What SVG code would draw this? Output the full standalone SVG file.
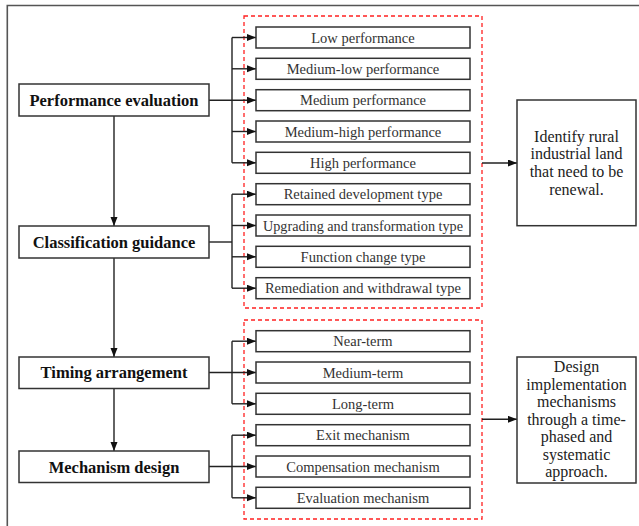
<svg xmlns="http://www.w3.org/2000/svg" width="639" height="526" viewBox="0 0 639 526">
<defs>
<marker id="ah" markerUnits="userSpaceOnUse" markerWidth="10" markerHeight="8" refX="9" refY="3.5" orient="auto">
<path d="M0,0 L9,3.5 L0,7 z" fill="#111"/>
</marker>
<style>
.box{fill:#fff;stroke:#333;stroke-width:1.5}
.main{font-family:"Liberation Serif","Times New Roman",serif;font-weight:bold;font-size:16.5px;fill:#111;text-anchor:middle}
.sub{font-family:"Liberation Serif","Times New Roman",serif;font-size:14.5px;fill:#333;text-anchor:middle}
.res{font-family:"Liberation Serif","Times New Roman",serif;font-size:16px;fill:#222;text-anchor:middle}
.ln{fill:none;stroke:#222;stroke-width:1.4}
.arr{fill:none;stroke:#222;stroke-width:1.4;marker-end:url(#ah)}
.red{fill:none;stroke:#ff2020;stroke-width:1.3;stroke-dasharray:4 3}
</style>
</defs>
<rect width="639" height="526" fill="#fff"/>
<path d="M7.3,526 V5.5 H639" fill="none" stroke="#555" stroke-width="1.6"/>

<g id="groups">
<rect class="red" x="244" y="16" width="238" height="292"/>
<rect class="red" x="244" y="320" width="238" height="199"/>
</g>

<g id="connectors">
<path class="arr" d="M114,116 V226"/>
<path class="arr" d="M114,258 V357"/>
<path class="arr" d="M114,388.5 V451"/>
<path class="arr" d="M209,100.2 H256"/>
<path class="ln" d="M232,37.5 V162.8"/>
<path class="arr" d="M232,37.5 H256"/>
<path class="arr" d="M232,68.8 H256"/>
<path class="arr" d="M232,131.5 H256"/>
<path class="arr" d="M232,162.8 H256"/>
<path class="ln" d="M209,242 H232"/>
<path class="ln" d="M232,194.2 V288.2"/>
<path class="arr" d="M232,194.2 H256"/>
<path class="arr" d="M232,225.5 H256"/>
<path class="arr" d="M232,256.8 H256"/>
<path class="arr" d="M232,288.2 H256"/>
<path class="arr" d="M209,372.5 H256"/>
<path class="ln" d="M232,341.2 V403.8"/>
<path class="arr" d="M232,341.2 H256"/>
<path class="arr" d="M232,403.8 H256"/>
<path class="arr" d="M209,466.5 H256"/>
<path class="ln" d="M232,435.2 V497.8"/>
<path class="arr" d="M232,435.2 H256"/>
<path class="arr" d="M232,497.8 H256"/>
<path class="arr" d="M482,163 H517"/>
<path class="arr" d="M482,419.3 H517"/>
</g>

<g id="performance-evaluation"><rect class="box" x="19" y="84" width="190" height="32"/><text class="main" x="114" y="105.8">Performance evaluation</text></g>
<g id="classification-guidance"><rect class="box" x="19" y="226" width="190" height="32"/><text class="main" x="114" y="247.8">Classification guidance</text></g>
<g id="timing-arrangement"><rect class="box" x="19" y="357" width="190" height="31.5"/><text class="main" x="114" y="378.3">Timing arrangement</text></g>
<g id="mechanism-design"><rect class="box" x="19" y="451" width="190" height="31.5"/><text class="main" x="114" y="472.5">Mechanism design</text></g>

<g id="low-performance"><rect class="box" x="256" y="27" width="214" height="21"/><text class="sub" x="363" y="42.5">Low performance</text></g>
<g id="medium-low-performance"><rect class="box" x="256" y="58.3" width="214" height="21"/><text class="sub" x="363" y="73.8">Medium-low performance</text></g>
<g id="medium-performance"><rect class="box" x="256" y="89.7" width="214" height="21"/><text class="sub" x="363" y="105.2">Medium performance</text></g>
<g id="medium-high-performance"><rect class="box" x="256" y="121" width="214" height="21"/><text class="sub" x="363" y="136.5">Medium-high performance</text></g>
<g id="high-performance"><rect class="box" x="256" y="152.3" width="214" height="21"/><text class="sub" x="363" y="167.8">High performance</text></g>

<g id="retained-development"><rect class="box" x="256" y="183.7" width="214" height="21"/><text class="sub" x="363" y="199.2">Retained development type</text></g>
<g id="upgrading-transformation"><rect class="box" x="256" y="215" width="214" height="21"/><text class="sub" x="363" y="230.5" textLength="200" lengthAdjust="spacingAndGlyphs">Upgrading and transformation type</text></g>
<g id="function-change"><rect class="box" x="256" y="246.3" width="214" height="21"/><text class="sub" x="363" y="261.8">Function change type</text></g>
<g id="remediation-withdrawal"><rect class="box" x="256" y="277.7" width="214" height="21"/><text class="sub" x="363" y="293.2">Remediation and withdrawal type</text></g>

<g id="near-term"><rect class="box" x="256" y="330.7" width="214" height="21"/><text class="sub" x="363" y="346.2">Near-term</text></g>
<g id="medium-term"><rect class="box" x="256" y="362" width="214" height="21"/><text class="sub" x="363" y="377.5">Medium-term</text></g>
<g id="long-term"><rect class="box" x="256" y="393.3" width="214" height="21"/><text class="sub" x="363" y="408.8">Long-term</text></g>
<g id="exit-mechanism"><rect class="box" x="256" y="424.7" width="214" height="21"/><text class="sub" x="363" y="440.2">Exit mechanism</text></g>
<g id="compensation-mechanism"><rect class="box" x="256" y="456" width="214" height="21"/><text class="sub" x="363" y="471.5">Compensation mechanism</text></g>
<g id="evaluation-mechanism"><rect class="box" x="256" y="487.3" width="214" height="21"/><text class="sub" x="363" y="502.8">Evaluation mechanism</text></g>

<g id="identify-result"><rect class="box" x="517" y="100" width="119" height="125.7"/>
<text class="res"><tspan x="576.5" y="141.5">Identify rural</tspan><tspan x="576.5" y="159.3">industrial land</tspan><tspan x="576.5" y="177.1">that need to be</tspan><tspan x="576.5" y="194.9">renewal.</tspan></text></g>

<g id="design-result"><rect class="box" x="517" y="357" width="119" height="126"/>
<text class="res"><tspan x="576.5" y="372">Design</tspan><tspan x="576.5" y="389.5">implementation</tspan><tspan x="576.5" y="407">mechanisms</tspan><tspan x="576.5" y="424.5">through a time-</tspan><tspan x="576.5" y="442">phased and</tspan><tspan x="576.5" y="459.5">systematic</tspan><tspan x="576.5" y="477">approach.</tspan></text></g>
</svg>
